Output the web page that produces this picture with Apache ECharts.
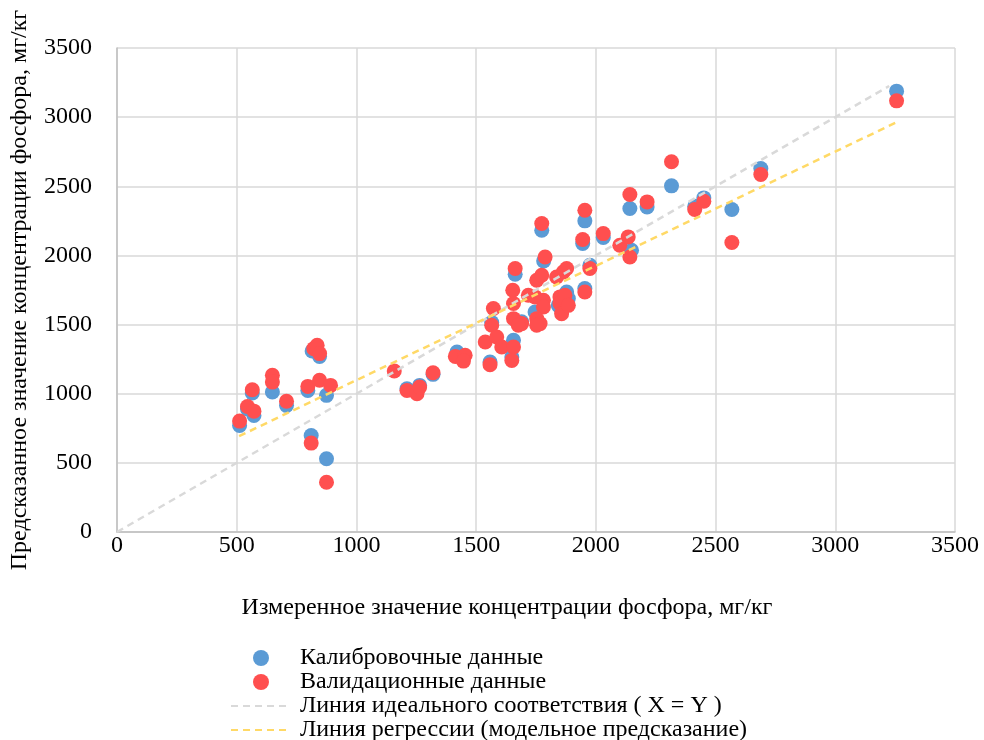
<!DOCTYPE html>
<html>
<head>
<meta charset="utf-8">
<script src="https://cdn.jsdelivr.net/npm/echarts@6/dist/echarts.min.js"></script>
<style>
  html, body { margin: 0; padding: 0; background: #fff; }
  #chart { width: 984px; height: 740px; }
</style>
</head>
<body>
<div id="chart"></div>
<script>
// Measured vs predicted phosphorus, mg/kg
const calibration = [
  [512, 771], [545, 890], [565, 1005], [572, 843], [649, 1012], [708, 916],
  [797, 1024], [815, 1309], [846, 1270], [875, 988], [811, 698], [875, 530],
  [1211, 1035], [1264, 1060], [1320, 1140], [1420, 1301], [1558, 1229],
  [1565, 1515], [1649, 1265], [1690, 1520], [1656, 1386],
  [1663, 1864], [1782, 1960], [1774, 2182], [1954, 2250], [1945, 2086],
  [2031, 2130], [1954, 1760], [1975, 1929], [1878, 1736], [1850, 1627],
  [1746, 1591], [1885, 1688], [1843, 1639], [2149, 2037],
  [2316, 2503], [2142, 2339], [2214, 2351], [2413, 2356], [2451, 2416],
  [2568, 2332], [2689, 2629], [3256, 3188]
];

const validation = [
  [512, 802], [545, 908], [565, 1029], [572, 874], [649, 1133], [649, 1084],
  [708, 945], [797, 1053], [822, 1326], [836, 1350], [846, 1290], [846, 1097],
  [892, 1060], [811, 643], [875, 360],
  [1158, 1164], [1211, 1024], [1253, 1000], [1264, 1048], [1320, 1152],
  [1413, 1270], [1454, 1278], [1447, 1236], [1558, 1210],
  [1663, 1905], [1653, 1748], [1572, 1616], [1656, 1652], [1565, 1495],
  [1656, 1543], [1690, 1507], [1538, 1374], [1586, 1410], [1607, 1338],
  [1656, 1338], [1649, 1241],
  [1753, 1820], [1774, 1857], [1864, 1880], [1836, 1844], [1746, 1700],
  [1718, 1712], [1781, 1676], [1850, 1700], [1781, 1627], [1850, 1652],
  [1857, 1579], [1753, 1543], [1767, 1507], [1676, 1495], [1753, 1495],
  [1945, 2115], [2031, 2158], [2100, 2074], [2135, 2134], [2142, 1989],
  [1788, 1989], [1975, 1905], [1954, 1736], [1878, 1905], [1871, 1712],
  [1885, 1639], [1774, 2231], [1954, 2327],
  [2316, 2677], [2142, 2441], [2214, 2387], [2413, 2332], [2451, 2392],
  [2568, 2093], [2689, 2585], [3256, 3118]
];

// Reference lines (end points)
const idealLine = [[0, 0], [3225, 3225]];
const regressionLine = [[510, 693], [3260, 2966]];

const axisTicks = [0, 500, 1000, 1500, 2000, 2500, 3000, 3500];

const seriesNames = [
  'Калибровочные данные',
  'Валидационные данные',
  'Линия идеального соответствия ( X = Y )',
  'Линия регрессии (модельное предсказание)'
];

const FONT = '"Liberation Serif", "Times New Roman", serif';

const chart = echarts.init(document.getElementById('chart'), null, { renderer: 'canvas' });

const axisCommon = {
  type: 'value',
  min: axisTicks[0],
  max: axisTicks[axisTicks.length - 1],
  interval: axisTicks[1] - axisTicks[0],
  nameLocation: 'middle',
  nameTextStyle: { fontFamily: FONT, fontSize: 24, color: '#000' },
  axisLine: { show: true, lineStyle: { color: '#bfbfbf', width: 1.5 } },
  axisTick: { show: false },
  splitLine: { show: true, lineStyle: { color: '#d9d9d9', width: 1.5 } },
  axisLabel: { fontFamily: FONT, fontSize: 24, color: '#000', formatter: v => String(v) }
};

chart.setOption({
  animation: false,
  backgroundColor: '#fff',
  grid: { left: 117, right: 29, top: 48, bottom: 208, containLabel: false },
  xAxis: Object.assign({}, axisCommon, {
    name: 'Измеренное значение концентрации фосфора, мг/кг',
    nameGap: 64,
    nameTextStyle: Object.assign({}, axisCommon.nameTextStyle, { padding: [0, 58, 0, 0] }),
    axisLabel: Object.assign({}, axisCommon.axisLabel, { margin: 2 })
  }),
  yAxis: Object.assign({}, axisCommon, {
    name: 'Предсказанное значение концентрации фосфора, мг/кг',
    nameGap: 85,
    axisLabel: Object.assign({}, axisCommon.axisLabel, { margin: 25 })
  }),
  legend: {
    orient: 'vertical',
    left: 225,
    top: 641,
    height: 120,
    itemGap: 0,
    itemWidth: 60,
    itemHeight: 16,
    textStyle: { fontFamily: FONT, fontSize: 24, lineHeight: 24, color: '#000', padding: [0, 0, 0, 4] },
    data: [
      { name: seriesNames[0] },
      { name: seriesNames[1] },
      { name: seriesNames[2], itemStyle: { opacity: 0 } },
      { name: seriesNames[3], itemStyle: { opacity: 0 } }
    ]
  },
  series: [
    {
      name: seriesNames[0],
      type: 'scatter',
      data: calibration,
      symbolSize: 15,
      itemStyle: { color: '#5b9bd5', opacity: 1 },
      z: 2
    },
    {
      name: seriesNames[1],
      type: 'scatter',
      data: validation,
      symbolSize: 15,
      itemStyle: { color: '#ff4f4f', opacity: 1 },
      z: 3
    },
    {
      name: seriesNames[2],
      type: 'line',
      data: idealLine,
      symbol: 'none',
      lineStyle: { color: '#d9d9d9', width: 2.5, type: [7, 5] },
      itemStyle: { color: '#d9d9d9' },
      z: 4
    },
    {
      name: seriesNames[3],
      type: 'line',
      data: regressionLine,
      symbol: 'none',
      lineStyle: { color: '#ffd966', width: 2.5, type: [7, 5] },
      itemStyle: { color: '#ffd966' },
      z: 5
    }
  ]
});
</script>
</body>
</html>
